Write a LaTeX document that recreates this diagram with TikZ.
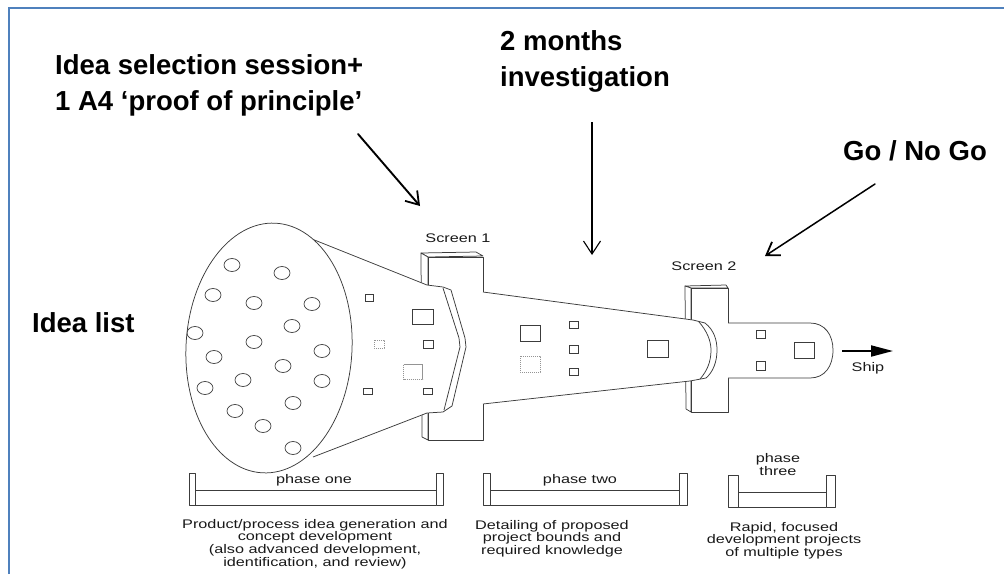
\documentclass[tikz,border=0pt]{standalone}
\usepackage{fontspec}
\setmainfont{Liberation Sans}
\newfontfamily\sketchfont[FakeStretch=1.3]{Liberation Sans}
\usetikzlibrary{arrows.meta}
\definecolor{frameblue}{RGB}{79,129,189}
\definecolor{ink}{RGB}{60,60,60}
\definecolor{txt}{RGB}{25,25,25}

\begin{document}
\begin{tikzpicture}[x=1pt,y=-1pt,
  heading/.style={font=\fontsize{27.5}{33}\selectfont\bfseries, inner sep=0pt, anchor=base west},
  label/.style={font=\sketchfont\fontsize{12.5}{12.7}\selectfont, text=txt, inner sep=0pt, align=center, anchor=base},
  desc/.style={label, anchor=north},
  sketch/.style={draw=ink, line width=0.75pt, line join=round},
  hole/.style={draw=ink, line width=0.7pt},
  faint/.style={draw=ink!55, line width=0.6pt, dash pattern=on 1.2pt off 0.8pt},
  pointer/.style={draw=black, line width=1.9pt, line cap=round,
    -{Straight Barb[length=12pt,width=16pt,line width=1.8pt]}},
  thinpointer/.style={draw=black, line width=1.1pt,
    -{Straight Barb[length=13pt,width=17pt,line width=1.1pt]}},
]
\useasboundingbox (0,0) rectangle (1004,574);

% page frame
\draw[frameblue, line width=2pt] (9,574) -- (9,8) -- (1004,8);

% ---------- headings ----------
\node[heading] (sel1) at (55,74) {Idea selection session+};
\node[heading] (sel2) at (55,110) {1 A4 ‘proof of principle’};
\node[heading] (inv1) at (500,50) {2 months};
\node[heading] (inv2) at (500,86) {investigation};
\node[heading] (go) at (843,160) {Go / No Go};
\node[heading] (idea) at (32,332) {Idea list};

% ---------- screen 1 slab ----------
\draw[sketch, fill=white] (421,253) -- (476,252) -- (483,256) -- (428,257) -- cycle;
\draw[sketch, fill=white] (421,253) -- (428,257) -- (428,440) -- (422,437) -- cycle;
\draw[sketch, fill=white] (428,257) rectangle (483,440);

% ---------- phase one funnel ----------
\fill[white] (307,237) -- (427,285) -- (443,287) -- (452,290) -- (466,338) -- (466,350)
  -- (452,406) -- (443,412) -- (427,413) -- (313,457) -- (260,348) -- cycle;
\draw[sketch] (307,237) -- (427,285) -- (443,287) -- (451,290) -- (465,338) -- (466,347)
  -- (452,406) -- (443,412) -- (427,413) -- (313,457);
\draw[sketch] (443,288) -- (459,338) -- (460,347) -- (444,410);

% squares travelling through phase one
\foreach \cx/\cy/\w/\h in {369/298/8/7, 423/317/21/15, 428/344/10/8, 368/391/9/6, 428/391/9/6}
  \draw[hole] (\cx,\cy) +(-\w/2,-\h/2) rectangle +(\w/2,\h/2);
\foreach \cx/\cy/\w/\h in {379/344/10/8, 413/372/19/15}
  \draw[faint] (\cx,\cy) +(-\w/2,-\h/2) rectangle +(\w/2,\h/2);

% mouth of the funnel with the idea list
\draw[sketch, fill=white, rotate around={-3:(269,348)}] (269,348) ellipse [x radius=83, y radius=125];
\begin{scope}
  \clip[rotate around={-3:(269,348)}] (269,348) ellipse [x radius=83, y radius=125];
  \foreach \cx/\cy in {232/265, 282/273, 213/295, 254/303, 312/304, 292/326, 195/333,
                       254/342, 322/351, 214/357, 283/366, 322/381, 205/388, 243/380,
                       293/403, 235/411, 263/426, 293/448}
    \draw[hole] (\cx,\cy) ellipse [x radius=8, y radius=6.5];
\end{scope}

% ---------- screen 2 slab ----------
\draw[sketch, fill=white] (685,286) -- (726,285) -- (728,288) -- (691,288) -- cycle;
\draw[sketch, fill=white] (685,286) -- (691,288) -- (691,412) -- (686,409) -- cycle;
\draw[sketch, fill=white] (691,288) rectangle (728,412);

% ---------- phase two funnel ----------
\fill[white] (483,292) -- (693,320) -- (705,323) .. controls (714,330) and (717,340) .. (717,350)
  .. controls (717,362) and (713,372) .. (706,378) -- (690,381) -- (483,404) -- cycle;
\draw[sketch] (483,292) -- (693,320) -- (705,323) .. controls (714,330) and (717,340) .. (717,350)
  .. controls (717,362) and (713,372) .. (706,378) -- (690,381) -- (483,404);
\draw[sketch] (699,322) .. controls (707,331) and (711,341) .. (711,350)
  .. controls (711,362) and (707,371) .. (700,379);

\foreach \cx/\cy/\w/\h in {530/333/20/16, 574/325/9/7, 574/349/9/8, 574/372/9/7, 658/349/21/17}
  \draw[hole] (\cx,\cy) +(-\w/2,-\h/2) rectangle +(\w/2,\h/2);
\draw[faint] (530,364) +(-10,-8) rectangle +(10,8);

% ---------- phase three tube ----------
\draw[sketch, fill=white] (728,323) -- (810,323) .. controls (825,323) and (833,335) .. (833,350)
  .. controls (833,366) and (825,378) .. (810,378) -- (728,378);
\foreach \cx/\cy/\w/\h in {761/334/9/8, 761/366/9/9, 804/350/20/16}
  \draw[hole] (\cx,\cy) +(-\w/2,-\h/2) rectangle +(\w/2,\h/2);

% ship
\coordinate (shiptail) at (842,351);
\coordinate (shiptip) at (893,351);
\draw[line width=1.9pt, -{Triangle[length=22pt,width=11pt]}] (shiptail) -- (shiptip);
\node[label] (ship) at (868,371) {Ship};

% screen labels
\node[label] (scr1) at (458,242) {Screen 1};
\node[label] (scr2) at (704,270) {Screen 2};

% ---------- phase brackets ----------
% phase one
\draw[sketch] (189,473) rectangle (195,505);
\draw[sketch] (436,473) rectangle (443,505);
\draw[sketch] (195,490) -- (436,490);
\draw[sketch] (195,505) -- (436,505);
% phase two
\draw[sketch] (483,473) rectangle (490,505);
\draw[sketch] (679,473) rectangle (687,505);
\draw[sketch] (490,490) -- (679,490);
\draw[sketch] (490,505) -- (679,505);
% phase three
\draw[sketch] (728,475) rectangle (738,507);
\draw[sketch] (826,475) rectangle (835,507);
\draw[sketch] (738,492) -- (826,492);
\draw[sketch] (738,507) -- (826,507);

\node[label] (ph1) at (314,483) {phase one};
\node[label] (ph2) at (580,483) {phase two};
\node[label] (ph3) at (778,475) {phase\\three};

\node[desc] (d1) at (315,519) {Product/process idea generation and\\concept development\\(also advanced development,\\identification, and review)};
\node[desc] (d2) at (552,520) {Detailing of proposed\\project bounds and\\required knowledge};
\node[desc] (d3) at (784,522) {Rapid, focused\\development projects\\of multiple types};

% ---------- pointers ----------
\coordinate (a1s) at (358,134);
\coordinate (a1e) at (420,206);
\draw[pointer] (a1s) -- (a1e);

\coordinate (a2s) at (592,122);
\coordinate (a2m) at (592,220);
\coordinate (a2e) at (592,255);
\draw[line width=2.3pt] (a2s) -- (a2m);
\draw[thinpointer] (a2m) -- (a2e);

\coordinate (a3s) at (875,184);
\coordinate (a3e) at (765,256);
\draw[pointer, line width=1.5pt] (a3s) -- (a3e);
\end{tikzpicture}
\end{document}
